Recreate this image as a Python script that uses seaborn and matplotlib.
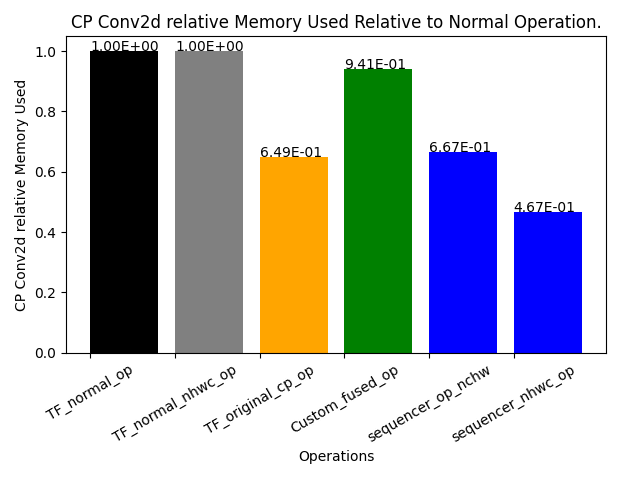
import matplotlib
matplotlib.use("Agg")
import matplotlib.pyplot as plt
import seaborn as sns
import pandas as pd

operations = ["TF_normal_op", "TF_normal_nhwc_op", "TF_original_cp_op",
              "Custom_fused_op", "sequencer_op_nchw", "sequencer_nhwc_op"]
memory_used = [1.0, 1.0, 0.649, 0.941, 0.667, 0.467]
bar_colors = ["black", "gray", "orange", "green", "blue", "blue"]

# bars are edge-aligned: each starts at its tick and spans 0.8
pos = list(range(len(operations)))
df = pd.DataFrame({"pos": [p + 0.4 for p in pos], "op": operations, "mem": memory_used})

fig, ax = plt.subplots(figsize=(6.4, 4.8), dpi=100)
sns.barplot(x="pos", y="mem", hue="op", data=df, palette=bar_colors,
            saturation=1, legend=False, ax=ax, width=0.8, native_scale=True)

# value labels at the left edge of each bar
for p, v in zip(pos, memory_used):
    ax.text(p, v, f"{v:.2E}", ha="left", va="baseline")

ax.set_xticks(pos)
ax.set_xticklabels(operations, rotation=30)
ax.set_xlim(-0.29, 6.09)
ax.set_ylim(0, 1.05)
ax.set_title("CP Conv2d relative Memory Used Relative to Normal Operation.")
ax.set_xlabel("Operations")
ax.set_ylabel("CP Conv2d relative Memory Used")
fig.subplots_adjust(left=0.103, right=0.947, top=0.925, bottom=0.265)
fig.savefig("out.png")
